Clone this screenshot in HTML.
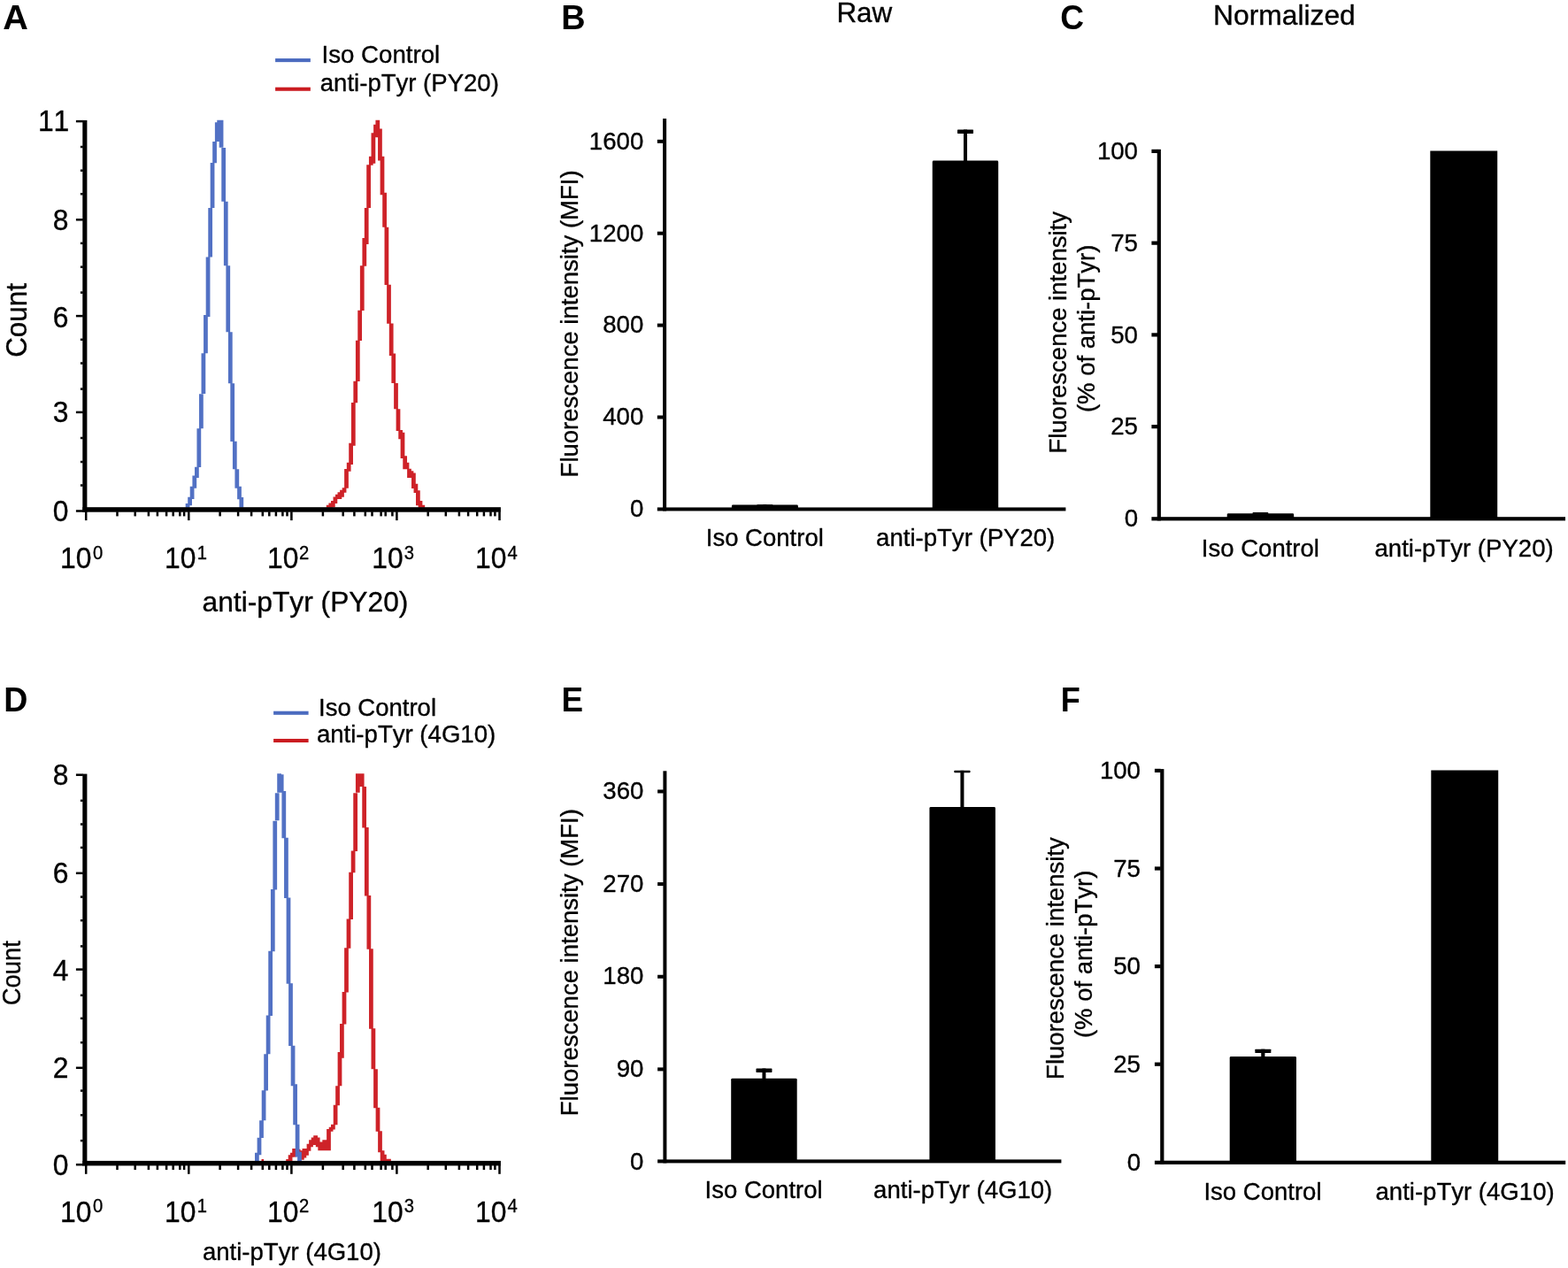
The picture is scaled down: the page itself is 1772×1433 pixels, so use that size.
<!DOCTYPE html>
<html lang="en">
<head>
<meta charset="utf-8">
<title>Figure: anti-pTyr flow cytometry</title>
<style>
html,body{margin:0;padding:0;background:#fff;}
body{width:1772px;height:1433px;overflow:hidden;}
figure{margin:0;padding:0;width:1772px;height:1433px;}
svg{display:block;font-family:"Liberation Sans", sans-serif;fill:#000;font-kerning:none;}
text{stroke:#000;stroke-width:0.35px;stroke-linejoin:round;}
text[font-weight=bold]{stroke-width:0;}
text{font-kerning:none;white-space:pre;}
</style>
</head>
<body>
<figure>
<svg role="img" aria-label="Flow cytometry histograms and bar charts for anti-pTyr PY20 and 4G10" width="1772" height="1433" viewBox="0 0 1772 1433">
<rect x="0" y="0" width="1772" height="1433" fill="#fff"/>
<g id="panel-a" class="panel">
<path d="M209.68,568.95h4.75v4.75h-4.75zM212.22,561.75h4.75v9.4h-4.75zM214.72,549.75h4.75v14.3h-4.75zM217.43,537.45h4.75v14.4h-4.75zM220.03,527.75h4.75v12.3h-4.75zM222.47,484.25h4.75v43.7h-4.75zM225.03,445.35h4.75v38.8h-4.75zM227.53,399.35h4.75v45.7h-4.75zM230.07,355.95h4.75v43.4h-4.75zM232.68,290.45h4.75v67.5h-4.75zM235.28,234.95h4.75v55.5h-4.75zM237.68,183.95h4.75v51h-4.75zM240.18,159.95h4.75v24.2h-4.75zM242.88,138.15h4.75v21.9h-4.75zM245.28,135.75h4.75v24.3h-4.75zM247.68,135.75h4.75v31.1h-4.75zM250.28,166.95h4.75v60.7h-4.75zM252.88,227.65h4.75v72.5h-4.75zM255.38,300.15h4.75v75.1h-4.75zM257.93,375.25h4.75v57.9h-4.75zM260.32,433.35h4.75v65.6h-4.75zM262.93,498.75h4.75v31.5h-4.75zM265.43,530.15h4.75v21.7h-4.75zM268.12,549.75h4.75v14.5h-4.75zM270.43,562.05h4.75v11.65h-4.75z" fill="#5271C4"/>
<path d="M368.82,570.85h4.75v2.85h-4.75zM371.43,568.45h4.75v5.25h-4.75zM373.98,565.95h4.75v7.3h-4.75zM376.52,561.45h4.75v7.5h-4.75zM379.02,558.65h4.75v5.4h-4.75zM381.52,556.25h4.75v7.8h-4.75zM384.12,553.75h4.75v7.9h-4.75zM386.68,551.35h4.75v5.4h-4.75zM389.12,529.95h4.75v21.9h-4.75zM391.82,522.65h4.75v10h-4.75zM394.23,500.65h4.75v24.3h-4.75zM396.93,454.95h4.75v48.7h-4.75zM399.38,430.75h4.75v24.4h-4.75zM401.93,384.85h4.75v46.15h-4.75zM404.27,350.85h4.75v34.2h-4.75zM406.88,300.15h4.75v50.9h-4.75zM409.43,268.95h4.75v31.7h-4.75zM411.82,234.95h4.75v41.1h-4.75zM414.23,186.25h4.75v48.7h-4.75zM416.93,176.85h4.75v9.9h-4.75zM419.52,150.15h4.75v34.5h-4.75zM422.12,140.75h4.75v14.1h-4.75zM424.43,135.75h4.75v19.6h-4.75zM427.07,145.45h4.75v36.1h-4.75zM429.62,176.85h4.75v43.4h-4.75zM432.23,217.85h4.75v39h-4.75zM434.52,256.65h4.75v65.4h-4.75zM437.12,321.85h4.75v43.9h-4.75zM439.82,365.55h4.75v36.4h-4.75zM442.38,399.55h4.75v33.5h-4.75zM445.12,432.95h4.75v29.4h-4.75zM447.62,462.25h4.75v24.7h-4.75zM450.27,486.05h4.75v10.2h-4.75zM452.62,488.85h4.75v29.2h-4.75zM455.27,515.35h4.75v14.9h-4.75zM457.62,522.65h4.75v7.6h-4.75zM460.12,529.75h4.75v10.3h-4.75zM462.62,532.15h4.75v7.9h-4.75zM465.02,534.5h4.75v17.55h-4.75zM467.52,546.85h4.75v10.1h-4.75zM470.02,554.15h4.75v17h-4.75zM472.62,566h4.75v7.7h-4.75zM475.43,570.85h4.75v2.85h-4.75z" fill="#CE2228"/>
<rect x="93.3" y="135.9" width="5.1" height="442.8" fill="#000"/>
<rect x="93.3" y="573.2" width="472.6" height="5.5" fill="#000"/>
<rect x="85.9" y="135.85" width="7.9" height="2.5" fill="#000"/>
<rect x="85.9" y="247.05" width="7.9" height="2.5" fill="#000"/>
<rect x="85.9" y="355.85" width="7.9" height="2.5" fill="#000"/>
<rect x="85.9" y="464.65" width="7.9" height="2.5" fill="#000"/>
<rect x="85.9" y="576.25" width="7.9" height="2.5" fill="#000"/>
<rect x="90.9" y="164.75" width="2.9" height="2.5" fill="#000"/>
<rect x="90.9" y="191.45" width="2.9" height="2.5" fill="#000"/>
<rect x="90.9" y="217.95" width="2.9" height="2.5" fill="#000"/>
<rect x="90.9" y="273.65" width="2.9" height="2.5" fill="#000"/>
<rect x="90.9" y="300.45" width="2.9" height="2.5" fill="#000"/>
<rect x="90.9" y="329.35" width="2.9" height="2.5" fill="#000"/>
<rect x="90.9" y="382.55" width="2.9" height="2.5" fill="#000"/>
<rect x="90.9" y="409.25" width="2.9" height="2.5" fill="#000"/>
<rect x="90.9" y="438.35" width="2.9" height="2.5" fill="#000"/>
<rect x="90.9" y="493.75" width="2.9" height="2.5" fill="#000"/>
<rect x="90.9" y="520.75" width="2.9" height="2.5" fill="#000"/>
<rect x="90.9" y="547.25" width="2.9" height="2.5" fill="#000"/>
<rect x="95.95" y="578.2" width="2.5" height="9.9" fill="#000"/>
<rect x="212.05" y="578.2" width="2.5" height="9.9" fill="#000"/>
<rect x="328.15" y="578.2" width="2.5" height="9.9" fill="#000"/>
<rect x="447.15" y="578.2" width="2.5" height="9.9" fill="#000"/>
<rect x="563.25" y="578.2" width="2.5" height="9.9" fill="#000"/>
<rect x="131.25" y="578.2" width="2.5" height="5.2" fill="#000"/>
<rect x="151.45" y="578.2" width="2.5" height="5.2" fill="#000"/>
<rect x="166.65" y="578.2" width="2.5" height="5.2" fill="#000"/>
<rect x="176.65" y="578.2" width="2.5" height="5.2" fill="#000"/>
<rect x="186.85" y="578.2" width="2.5" height="5.2" fill="#000"/>
<rect x="194.45" y="578.2" width="2.5" height="5.2" fill="#000"/>
<rect x="202.05" y="578.2" width="2.5" height="5.2" fill="#000"/>
<rect x="206.85" y="578.2" width="2.5" height="5.2" fill="#000"/>
<rect x="247.35" y="578.2" width="2.5" height="5.2" fill="#000"/>
<rect x="267.85" y="578.2" width="2.5" height="5.2" fill="#000"/>
<rect x="282.85" y="578.2" width="2.5" height="5.2" fill="#000"/>
<rect x="295.55" y="578.2" width="2.5" height="5.2" fill="#000"/>
<rect x="303.05" y="578.2" width="2.5" height="5.2" fill="#000"/>
<rect x="310.65" y="578.2" width="2.5" height="5.2" fill="#000"/>
<rect x="318.15" y="578.2" width="2.5" height="5.2" fill="#000"/>
<rect x="323.25" y="578.2" width="2.5" height="5.2" fill="#000"/>
<rect x="363.65" y="578.2" width="2.5" height="5.2" fill="#000"/>
<rect x="386.45" y="578.2" width="2.5" height="5.2" fill="#000"/>
<rect x="399.15" y="578.2" width="2.5" height="5.2" fill="#000"/>
<rect x="411.55" y="578.2" width="2.5" height="5.2" fill="#000"/>
<rect x="419.25" y="578.2" width="2.5" height="5.2" fill="#000"/>
<rect x="429.35" y="578.2" width="2.5" height="5.2" fill="#000"/>
<rect x="434.45" y="578.2" width="2.5" height="5.2" fill="#000"/>
<rect x="442.15" y="578.2" width="2.5" height="5.2" fill="#000"/>
<rect x="482.45" y="578.2" width="2.5" height="5.2" fill="#000"/>
<rect x="502.55" y="578.2" width="2.5" height="5.2" fill="#000"/>
<rect x="517.65" y="578.2" width="2.5" height="5.2" fill="#000"/>
<rect x="527.85" y="578.2" width="2.5" height="5.2" fill="#000"/>
<rect x="537.95" y="578.2" width="2.5" height="5.2" fill="#000"/>
<rect x="545.65" y="578.2" width="2.5" height="5.2" fill="#000"/>
<rect x="553.25" y="578.2" width="2.5" height="5.2" fill="#000"/>
<rect x="558.15" y="578.2" width="2.5" height="5.2" fill="#000"/>
<text transform="translate(59.7 588.9) scale(0.9360 1)" font-size="34">0</text>
<text transform="translate(59.7 477.3) scale(0.9360 1)" font-size="34">3</text>
<text transform="translate(59.7 369.7) scale(0.9360 1)" font-size="34">6</text>
<text transform="translate(59.7 259.9) scale(0.9360 1)" font-size="34">8</text>
<text transform="translate(42.9 148.2) scale(0.9360 1)" font-size="34">11</text>
<text transform="translate(68.05 641.7) scale(0.9360 1)" font-size="34">10</text>
<text transform="translate(105.09 632) scale(0.9500 1)" font-size="21.3">0</text>
<text transform="translate(186.05 641.7) scale(0.9360 1)" font-size="34">10</text>
<text transform="translate(222.68 632) scale(0.9500 1)" font-size="21.3">1</text>
<text transform="translate(302.1 641.7) scale(0.9360 1)" font-size="34">10</text>
<text transform="translate(338.09 632) scale(0.9500 1)" font-size="21.3">2</text>
<text transform="translate(420.25 641.7) scale(0.9360 1)" font-size="34">10</text>
<text transform="translate(456.69 632) scale(0.9500 1)" font-size="21.3">3</text>
<text transform="translate(536.95 641.7) scale(0.9360 1)" font-size="34">10</text>
<text transform="translate(573.5 632) scale(0.9500 1)" font-size="21.3">4</text>
<text transform="translate(3.27 32.5) scale(1.0317 1)" font-size="38.4" font-weight="bold" stroke-width="0">A</text>
<text transform="translate(363.51 71.1) scale(1.0055 1)" font-size="27.5">Iso Control</text>
<text transform="translate(361.8 102.5) scale(1.0019 1)" font-size="27.5">anti-pTyr (PY20)</text>
<text transform="translate(228.53 690.8) scale(0.9985 1)" font-size="31.8">anti-pTyr (PY20)</text>
<text transform="translate(29.8 403.87) rotate(-90) scale(0.9523 1)" font-size="33">Count</text>
<rect x="311.1" y="66.05" width="39.75" height="4.1" fill="#4B6BBF"/>
<rect x="311.1" y="98.65" width="39.75" height="4.1" fill="#CA1B20"/>
</g>
<g id="panel-b" class="panel">
<path d="M826.9,575.45v-3.45q0,-1.4 1.4,-1.4h72.2q1.4,0 1.4,1.4v3.45z" fill="#000"/>
<rect x="862.4" y="570.2" width="4" height="1.4" fill="#000"/>
<rect x="855.4" y="570.2" width="18" height="2" rx="0.6" ry="0.6" fill="#000"/>
<path d="M1053.7,575.45v-392.45q0,-1.4 1.4,-1.4h71.7q1.4,0 1.4,1.4v392.45z" fill="#000"/>
<rect x="1088.95" y="146.5" width="4" height="36.1" fill="#000"/>
<rect x="1081.95" y="146.5" width="18" height="4.4" rx="0.6" ry="0.6" fill="#000"/>
<rect x="749.1" y="134" width="4" height="443.45" fill="#000"/>
<rect x="742.8" y="573.45" width="461.6" height="4" fill="#000"/>
<text transform="translate(711.93 584.2) scale(0.9700 1)" font-size="28.5">0</text>
<rect x="742.8" y="469.5" width="6.8" height="4" fill="#000"/>
<text transform="translate(681.18 480.3) scale(0.9700 1)" font-size="28.5">400</text>
<rect x="742.8" y="365.6" width="6.8" height="4" fill="#000"/>
<text transform="translate(681.18 376.4) scale(0.9700 1)" font-size="28.5">800</text>
<rect x="742.8" y="261.7" width="6.8" height="4" fill="#000"/>
<text transform="translate(665.8 272.5) scale(0.9700 1)" font-size="28.5">1200</text>
<rect x="742.8" y="157.8" width="6.8" height="4" fill="#000"/>
<text transform="translate(665.8 168.6) scale(0.9700 1)" font-size="28.5">1600</text>
<text transform="translate(634.24 32.5) scale(0.9845 1)" font-size="38.4" font-weight="bold" stroke-width="0">B</text>
<text transform="translate(945.39 25.3) scale(0.9875 1)" font-size="31.8">Raw</text>
<text transform="translate(797.77 616.8) scale(1.0009 1)" font-size="27.5">Iso Control</text>
<text transform="translate(990.1 616.8) scale(1.0029 1)" font-size="27.5">anti-pTyr (PY20)</text>
<text transform="translate(653.1 539.4) rotate(-90) scale(1.0003 1)" font-size="27.5">Fluorescence intensity (MFI)</text>
</g>
<g id="panel-c" class="panel">
<path d="M1386.7,586.3v-4.6q0,-1.4 1.4,-1.4h72.7q1.4,0 1.4,1.4v4.6z" fill="#000"/>
<rect x="1422.35" y="579" width="4.2" height="2.3" fill="#000"/>
<rect x="1415.65" y="579" width="17.6" height="2.5" rx="0.6" ry="0.6" fill="#000"/>
<path d="M1616.3,586.3v-415.79q0,-0.01 0.01,-0.01h75.88q0.01,0 0.01,0.01v415.79z" fill="#000"/>
<rect x="1307.7" y="168.8" width="4.2" height="419.6" fill="#000"/>
<rect x="1301.4" y="584.2" width="467.6" height="4.2" fill="#000"/>
<text transform="translate(1270.63 595.2) scale(0.9700 1)" font-size="28.5">0</text>
<rect x="1301.4" y="480.05" width="6.8" height="4.2" fill="#000"/>
<text transform="translate(1255.25 491.45) scale(0.9700 1)" font-size="28.5">25</text>
<rect x="1301.4" y="376.3" width="6.8" height="4.2" fill="#000"/>
<text transform="translate(1255.25 387.7) scale(0.9700 1)" font-size="28.5">50</text>
<rect x="1301.4" y="272.55" width="6.8" height="4.2" fill="#000"/>
<text transform="translate(1255.25 283.95) scale(0.9700 1)" font-size="28.5">75</text>
<rect x="1301.4" y="168.8" width="6.8" height="4.2" fill="#000"/>
<text transform="translate(1239.88 180.2) scale(0.9700 1)" font-size="28.5">100</text>
<text transform="translate(1198.32 32.7) scale(0.9661 1)" font-size="38.4" font-weight="bold" stroke-width="0">C</text>
<text transform="translate(1371.06 28.2) scale(0.9998 1)" font-size="31.8">Normalized</text>
<text transform="translate(1357.87 628.6) scale(1.0009 1)" font-size="27.5">Iso Control</text>
<text transform="translate(1553.5 628.6) scale(1.0029 1)" font-size="27.5">anti-pTyr (PY20)</text>
<text transform="translate(1204.6 512.6) rotate(-90) scale(1.0000 1)" font-size="27.5">Fluorescence intensity</text>
<text transform="translate(1236.5 466.08) rotate(-90) scale(1.0000 1)" font-size="27.5">(% of anti-pTyr)</text>
</g>
<g id="panel-d" class="panel">
<path d="M323.23,1310.05h4.75v2.35h-4.75zM325.73,1305.25h4.75v7.15h-4.75zM328.02,1302.65h4.75v5.1h-4.75zM330.23,1297.95h4.75v9.5h-4.75zM332.32,1297.95h4.75v6.3h-4.75zM334.82,1298.75h4.75v7.5h-4.75zM337.23,1300.15h4.75v8.1h-4.75zM339.02,1300.15h4.75v10.7h-4.75zM341.52,1297.95h4.75v10.6h-4.75zM344.12,1297.95h4.75v7.8h-4.75zM346.62,1292.85h4.75v7.8h-4.75zM349.12,1288.15h4.75v8h-4.75zM351.73,1285.55h4.75v8.4h-4.75zM354.23,1283.25h4.75v10.7h-4.75zM356.82,1285.55h4.75v10.6h-4.75zM359.32,1290.6h4.75v9.55h-4.75zM361.73,1290.6h4.75v9.55h-4.75zM364.32,1288.35h4.75v11.8h-4.75zM366.62,1288.35h4.75v11.8h-4.75zM369.12,1275.95h4.75v24.2h-4.75zM371.73,1273.65h4.75v5h-4.75zM374.02,1270.85h4.75v5.6h-4.75zM376.73,1248.85h4.75v22.5h-4.75zM379.18,1227.35h4.75v22h-4.75zM381.62,1189.05h4.75v38.3h-4.75zM384.02,1157.05h4.75v38.7h-4.75zM386.62,1120.95h4.75v36.6h-4.75zM389.12,1071.25h4.75v50.2h-4.75zM391.62,1038.55h4.75v33.2h-4.75zM394.23,985.75h4.75v53.3h-4.75zM396.73,961.45h4.75v24.8h-4.75zM399.27,896.15h4.75v65.8h-4.75zM401.93,874.35h4.75v21.4h-4.75zM404.32,874.35h4.75v14.6h-4.75zM406.82,874.35h4.75v14.6h-4.75zM409.27,889.05h4.75v46.4h-4.75zM411.93,934.95h4.75v77.6h-4.75zM414.48,1012.05h4.75v60.8h-4.75zM417.02,1072.35h4.75v90.3h-4.75zM419.52,1162.15h4.75v46h-4.75zM422.12,1208.25h4.75v43.9h-4.75zM424.62,1251.65h4.75v27h-4.75zM427.12,1278.15h4.75v24.2h-4.75zM429.73,1300.15h4.75v12.25h-4.75zM432.02,1304.75h4.75v7.65h-4.75zM434.62,1309.75h4.75v2.65h-4.75zM437.12,1309.75h4.75v2.65h-4.75z" fill="#CE2228"/>
<path d="M288.02,1302.65h4.75v9.75h-4.75zM290.62,1285.75h4.75v19.5h-4.75zM293.12,1266.35h4.75v19.7h-4.75zM295.73,1232.25h4.75v34h-4.75zM298.23,1191.25h4.75v41.2h-4.75zM300.73,1147.45h4.75v43.8h-4.75zM303.27,1074.65h4.75v73.3h-4.75zM305.93,1005.05h4.75v70.1h-4.75zM308.38,927.75h4.75v77.8h-4.75zM310.82,896.15h4.75v31.2h-4.75zM313.23,874.35h4.75v21.4h-4.75zM315.82,875.25h4.75v20.5h-4.75zM318.43,894.05h4.75v53.2h-4.75zM321.07,946.75h4.75v68.2h-4.75zM323.62,1014.45h4.75v97.4h-4.75zM326.12,1111.35h4.75v70.6h-4.75zM328.68,1181.65h4.75v45.7h-4.75zM331.23,1225.15h4.75v46.2h-4.75zM333.73,1270.85h4.75v36.6h-4.75zM336.12,1301.85h4.75v10.55h-4.75z" fill="#5271C4"/>
<rect x="295.5" y="1310" width="2.6" height="3" fill="#CE2228"/>
<rect x="93.3" y="874.6" width="5.1" height="442.8" fill="#000"/>
<rect x="93.3" y="1311.9" width="472.6" height="5.5" fill="#000"/>
<rect x="85.9" y="874.45" width="7.9" height="2.5" fill="#000"/>
<rect x="85.9" y="985.55" width="7.9" height="2.5" fill="#000"/>
<rect x="85.9" y="1094.35" width="7.9" height="2.5" fill="#000"/>
<rect x="85.9" y="1205.55" width="7.9" height="2.5" fill="#000"/>
<rect x="85.9" y="1314.95" width="7.9" height="2.5" fill="#000"/>
<rect x="90.9" y="903.55" width="2.9" height="2.5" fill="#000"/>
<rect x="90.9" y="930.25" width="2.9" height="2.5" fill="#000"/>
<rect x="90.9" y="956.65" width="2.9" height="2.5" fill="#000"/>
<rect x="90.9" y="1012.35" width="2.9" height="2.5" fill="#000"/>
<rect x="90.9" y="1038.95" width="2.9" height="2.5" fill="#000"/>
<rect x="90.9" y="1068.15" width="2.9" height="2.5" fill="#000"/>
<rect x="90.9" y="1123.55" width="2.9" height="2.5" fill="#000"/>
<rect x="90.9" y="1149.65" width="2.9" height="2.5" fill="#000"/>
<rect x="90.9" y="1176.95" width="2.9" height="2.5" fill="#000"/>
<rect x="90.9" y="1231.35" width="2.9" height="2.5" fill="#000"/>
<rect x="90.9" y="1258.95" width="2.9" height="2.5" fill="#000"/>
<rect x="90.9" y="1287.85" width="2.9" height="2.5" fill="#000"/>
<rect x="95.95" y="1316.9" width="2.5" height="9.9" fill="#000"/>
<rect x="212.05" y="1316.9" width="2.5" height="9.9" fill="#000"/>
<rect x="328.15" y="1316.9" width="2.5" height="9.9" fill="#000"/>
<rect x="447.15" y="1316.9" width="2.5" height="9.9" fill="#000"/>
<rect x="563.25" y="1316.9" width="2.5" height="9.9" fill="#000"/>
<rect x="131.25" y="1316.9" width="2.5" height="5.2" fill="#000"/>
<rect x="151.45" y="1316.9" width="2.5" height="5.2" fill="#000"/>
<rect x="166.65" y="1316.9" width="2.5" height="5.2" fill="#000"/>
<rect x="176.65" y="1316.9" width="2.5" height="5.2" fill="#000"/>
<rect x="186.85" y="1316.9" width="2.5" height="5.2" fill="#000"/>
<rect x="194.45" y="1316.9" width="2.5" height="5.2" fill="#000"/>
<rect x="202.05" y="1316.9" width="2.5" height="5.2" fill="#000"/>
<rect x="206.85" y="1316.9" width="2.5" height="5.2" fill="#000"/>
<rect x="247.35" y="1316.9" width="2.5" height="5.2" fill="#000"/>
<rect x="267.85" y="1316.9" width="2.5" height="5.2" fill="#000"/>
<rect x="282.85" y="1316.9" width="2.5" height="5.2" fill="#000"/>
<rect x="295.55" y="1316.9" width="2.5" height="5.2" fill="#000"/>
<rect x="303.05" y="1316.9" width="2.5" height="5.2" fill="#000"/>
<rect x="310.65" y="1316.9" width="2.5" height="5.2" fill="#000"/>
<rect x="318.15" y="1316.9" width="2.5" height="5.2" fill="#000"/>
<rect x="323.25" y="1316.9" width="2.5" height="5.2" fill="#000"/>
<rect x="363.65" y="1316.9" width="2.5" height="5.2" fill="#000"/>
<rect x="386.45" y="1316.9" width="2.5" height="5.2" fill="#000"/>
<rect x="399.15" y="1316.9" width="2.5" height="5.2" fill="#000"/>
<rect x="411.55" y="1316.9" width="2.5" height="5.2" fill="#000"/>
<rect x="419.25" y="1316.9" width="2.5" height="5.2" fill="#000"/>
<rect x="429.35" y="1316.9" width="2.5" height="5.2" fill="#000"/>
<rect x="434.45" y="1316.9" width="2.5" height="5.2" fill="#000"/>
<rect x="442.15" y="1316.9" width="2.5" height="5.2" fill="#000"/>
<rect x="482.45" y="1316.9" width="2.5" height="5.2" fill="#000"/>
<rect x="502.55" y="1316.9" width="2.5" height="5.2" fill="#000"/>
<rect x="517.65" y="1316.9" width="2.5" height="5.2" fill="#000"/>
<rect x="527.85" y="1316.9" width="2.5" height="5.2" fill="#000"/>
<rect x="537.95" y="1316.9" width="2.5" height="5.2" fill="#000"/>
<rect x="545.65" y="1316.9" width="2.5" height="5.2" fill="#000"/>
<rect x="553.25" y="1316.9" width="2.5" height="5.2" fill="#000"/>
<rect x="558.15" y="1316.9" width="2.5" height="5.2" fill="#000"/>
<text transform="translate(59.7 1327.6) scale(0.9360 1)" font-size="34">0</text>
<text transform="translate(59.7 1217.7) scale(0.9360 1)" font-size="34">2</text>
<text transform="translate(59.7 1108) scale(0.9360 1)" font-size="34">4</text>
<text transform="translate(59.7 998.3) scale(0.9360 1)" font-size="34">6</text>
<text transform="translate(59.7 886.9) scale(0.9360 1)" font-size="34">8</text>
<text transform="translate(68.05 1381.2) scale(0.9360 1)" font-size="34">10</text>
<text transform="translate(105.09 1370.2) scale(0.9500 1)" font-size="21.3">0</text>
<text transform="translate(186.05 1381.2) scale(0.9360 1)" font-size="34">10</text>
<text transform="translate(222.68 1370.2) scale(0.9500 1)" font-size="21.3">1</text>
<text transform="translate(302.1 1381.2) scale(0.9360 1)" font-size="34">10</text>
<text transform="translate(338.09 1370.2) scale(0.9500 1)" font-size="21.3">2</text>
<text transform="translate(420.25 1381.2) scale(0.9360 1)" font-size="34">10</text>
<text transform="translate(456.69 1370.2) scale(0.9500 1)" font-size="21.3">3</text>
<text transform="translate(536.95 1381.2) scale(0.9360 1)" font-size="34">10</text>
<text transform="translate(573.5 1370.2) scale(0.9500 1)" font-size="21.3">4</text>
<text transform="translate(4.36 803.5) scale(0.9787 1)" font-size="38.4" font-weight="bold" stroke-width="0">D</text>
<text transform="translate(360.02 809.3) scale(1.0001 1)" font-size="27.5">Iso Control</text>
<text transform="translate(357.9 839.2) scale(1.0034 1)" font-size="27.5">anti-pTyr (4G10)</text>
<text transform="translate(229 1423.7) scale(1.0014 1)" font-size="27.5">anti-pTyr (4G10)</text>
<text transform="translate(22.6 1136.17) rotate(-90) scale(0.9571 1)" font-size="28.6">Count</text>
<rect x="309.1" y="803.7" width="39.5" height="4.1" fill="#4B6BBF"/>
<rect x="309.1" y="834.95" width="39.5" height="4.1" fill="#CA1B20"/>
</g>
<g id="panel-e" class="panel">
<path d="M826.2,1312.4v-92.2q0,-1.4 1.4,-1.4h71.7q1.4,0 1.4,1.4v92.2z" fill="#000"/>
<rect x="861.45" y="1207.5" width="4" height="12.3" fill="#000"/>
<rect x="854.45" y="1207.5" width="18" height="4.4" rx="0.6" ry="0.6" fill="#000"/>
<path d="M1050.4,1312.4v-399q0,-1.4 1.4,-1.4h71.7q1.4,0 1.4,1.4v399z" fill="#000"/>
<rect x="1085.4" y="870.8" width="4" height="42.2" fill="#000"/>
<rect x="1078.3" y="870.8" width="18.2" height="2.4" rx="0.6" ry="0.6" fill="#000"/>
<rect x="749.4" y="871.3" width="4" height="443.1" fill="#000"/>
<rect x="743.1" y="1310.4" width="456.3" height="4" fill="#000"/>
<text transform="translate(712.03 1321.6) scale(0.9700 1)" font-size="28.5">0</text>
<rect x="743.1" y="1206.4" width="6.8" height="4" fill="#000"/>
<text transform="translate(696.65 1216.95) scale(0.9700 1)" font-size="28.5">90</text>
<rect x="743.1" y="1101.75" width="6.8" height="4" fill="#000"/>
<text transform="translate(681.28 1112.3) scale(0.9700 1)" font-size="28.5">180</text>
<rect x="743.1" y="997.1" width="6.8" height="4" fill="#000"/>
<text transform="translate(681.28 1007.65) scale(0.9700 1)" font-size="28.5">270</text>
<rect x="743.1" y="892.45" width="6.8" height="4" fill="#000"/>
<text transform="translate(681.28 903) scale(0.9700 1)" font-size="28.5">360</text>
<text transform="translate(634.51 803.5) scale(0.9587 1)" font-size="38.4" font-weight="bold" stroke-width="0">E</text>
<text transform="translate(796.57 1354.4) scale(1.0009 1)" font-size="27.5">Iso Control</text>
<text transform="translate(987.1 1354.4) scale(1.0029 1)" font-size="27.5">anti-pTyr (4G10)</text>
<text transform="translate(652.6 1261.2) rotate(-90) scale(1.0006 1)" font-size="27.5">Fluorescence intensity (MFI)</text>
</g>
<g id="panel-f" class="panel">
<path d="M1389.7,1313.8v-118.3q0,-1.4 1.4,-1.4h72.5q1.4,0 1.4,1.4v118.3z" fill="#000"/>
<rect x="1425.25" y="1185.7" width="4.2" height="9.4" fill="#000"/>
<rect x="1418.35" y="1185.7" width="18" height="4.4" rx="0.6" ry="0.6" fill="#000"/>
<path d="M1617.3,1313.8v-443.29q0,-0.01 0.01,-0.01h75.88q0.01,0 0.01,0.01v443.29z" fill="#000"/>
<rect x="1311.2" y="869.1" width="4.2" height="446.8" fill="#000"/>
<rect x="1304.9" y="1311.7" width="464.3" height="4.2" fill="#000"/>
<text transform="translate(1273.63 1322.6) scale(0.9700 1)" font-size="28.5">0</text>
<rect x="1304.9" y="1200.6" width="6.8" height="4.2" fill="#000"/>
<text transform="translate(1258.25 1212) scale(0.9700 1)" font-size="28.5">25</text>
<rect x="1304.9" y="1090" width="6.8" height="4.2" fill="#000"/>
<text transform="translate(1258.25 1101.4) scale(0.9700 1)" font-size="28.5">50</text>
<rect x="1304.9" y="979.4" width="6.8" height="4.2" fill="#000"/>
<text transform="translate(1258.25 990.8) scale(0.9700 1)" font-size="28.5">75</text>
<rect x="1304.9" y="868.8" width="6.8" height="4.2" fill="#000"/>
<text transform="translate(1242.88 880.2) scale(0.9700 1)" font-size="28.5">100</text>
<text transform="translate(1198.75 803.5) scale(0.9395 1)" font-size="38.4" font-weight="bold" stroke-width="0">F</text>
<text transform="translate(1360.47 1355.5) scale(1.0009 1)" font-size="27.5">Iso Control</text>
<text transform="translate(1554.5 1355.5) scale(1.0029 1)" font-size="27.5">anti-pTyr (4G10)</text>
<text transform="translate(1202 1219.9) rotate(-90) scale(1.0000 1)" font-size="27.5">Fluorescence intensity</text>
<text transform="translate(1233.9 1173.08) rotate(-90) scale(1.0000 1)" font-size="27.5">(% of anti-pTyr)</text>
</g>
</svg>
</figure>
</body>
</html>
